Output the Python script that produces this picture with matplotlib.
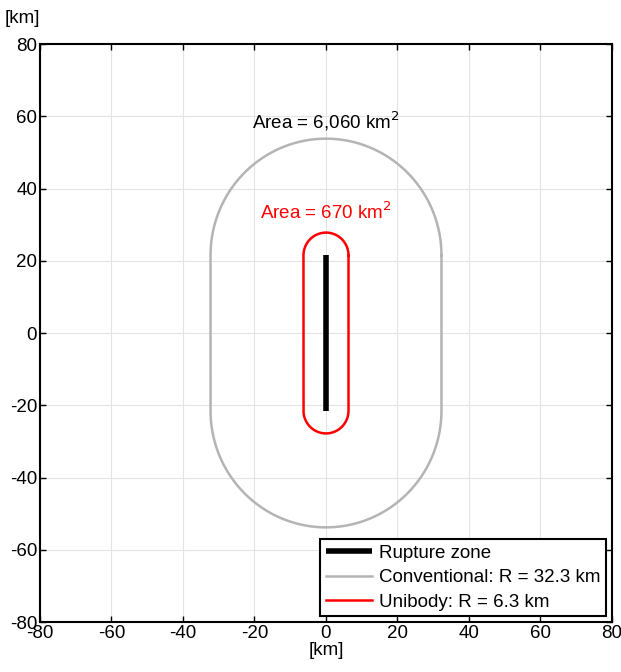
import numpy as np
import matplotlib
matplotlib.use("Agg")
from matplotlib import pyplot as plt

plt.rcParams['font.family'] = ['Liberation Sans', 'DejaVu Sans']
plt.rcParams['font.size'] = 13.5
plt.rcParams['axes.unicode_minus'] = False

# data
rupture_y = [-21.5, 21.5]          # rupture zone ends [km]
radii = [32.3, 6.3]                # buffer radius [km]
labels = ['Conventional: R = 32.3 km', 'Unibody: R = 6.3 km']
colors = ['#b4b4b4', '#ff0000']
areas = ['Area = 6,060 km$^2$', 'Area = 670 km$^2$']
area_text_y = [58.5, 33.5]


def stadium(r, y0, y1, n=200):
    t1 = np.linspace(0, np.pi, n)
    t2 = np.linspace(np.pi, 2 * np.pi, n)
    x = np.concatenate([r * np.cos(t1), r * np.cos(t2), [r]])
    y = np.concatenate([y1 + r * np.sin(t1), y0 + r * np.sin(t2), [y1]])
    return x, y


fig = plt.figure(figsize=(6.21, 6.72), dpi=100)
ax = fig.add_axes([0.0644, 0.0744, 0.9211, 0.8601])

ax.plot([0, 0], rupture_y, color='k', lw=4, label='Rupture zone',
        solid_capstyle='butt', zorder=5)
for r, lab, c in zip(radii, labels, colors):
    x, y = stadium(r, rupture_y[0], rupture_y[1])
    ax.plot(x, y, color=c, lw=1.8, label=lab)
for txt, ty, c in zip(areas, area_text_y, ['k', '#ff0000']):
    ax.text(0, ty, txt, color=c, ha='center', va='center')

ax.set_xlim(-80, 80)
ax.set_ylim(-80, 80)
ax.set_xticks(np.arange(-80, 81, 20))
ax.set_yticks(np.arange(-80, 81, 20))
ax.grid(True, color='#e3e3e3', lw=0.8)
ax.set_axisbelow(True)
ax.tick_params(direction='in', top=True, right=True, length=4, width=1,
               labelsize=13.5, pad=2)
for s in ax.spines.values():
    s.set_linewidth(1.5)

ax.set_xlabel('[km]', labelpad=0)
fig.text(0.008, 0.972, '[km]', ha='left', va='center')

leg = ax.legend(loc='lower right', frameon=True, fancybox=False,
                edgecolor='k', framealpha=1, handlelength=2.45,
                borderpad=0.3, labelspacing=0.4, handletextpad=0.4,
                borderaxespad=0.3)
leg.get_frame().set_linewidth(1.5)

fig.savefig('out.png', dpi=100)
